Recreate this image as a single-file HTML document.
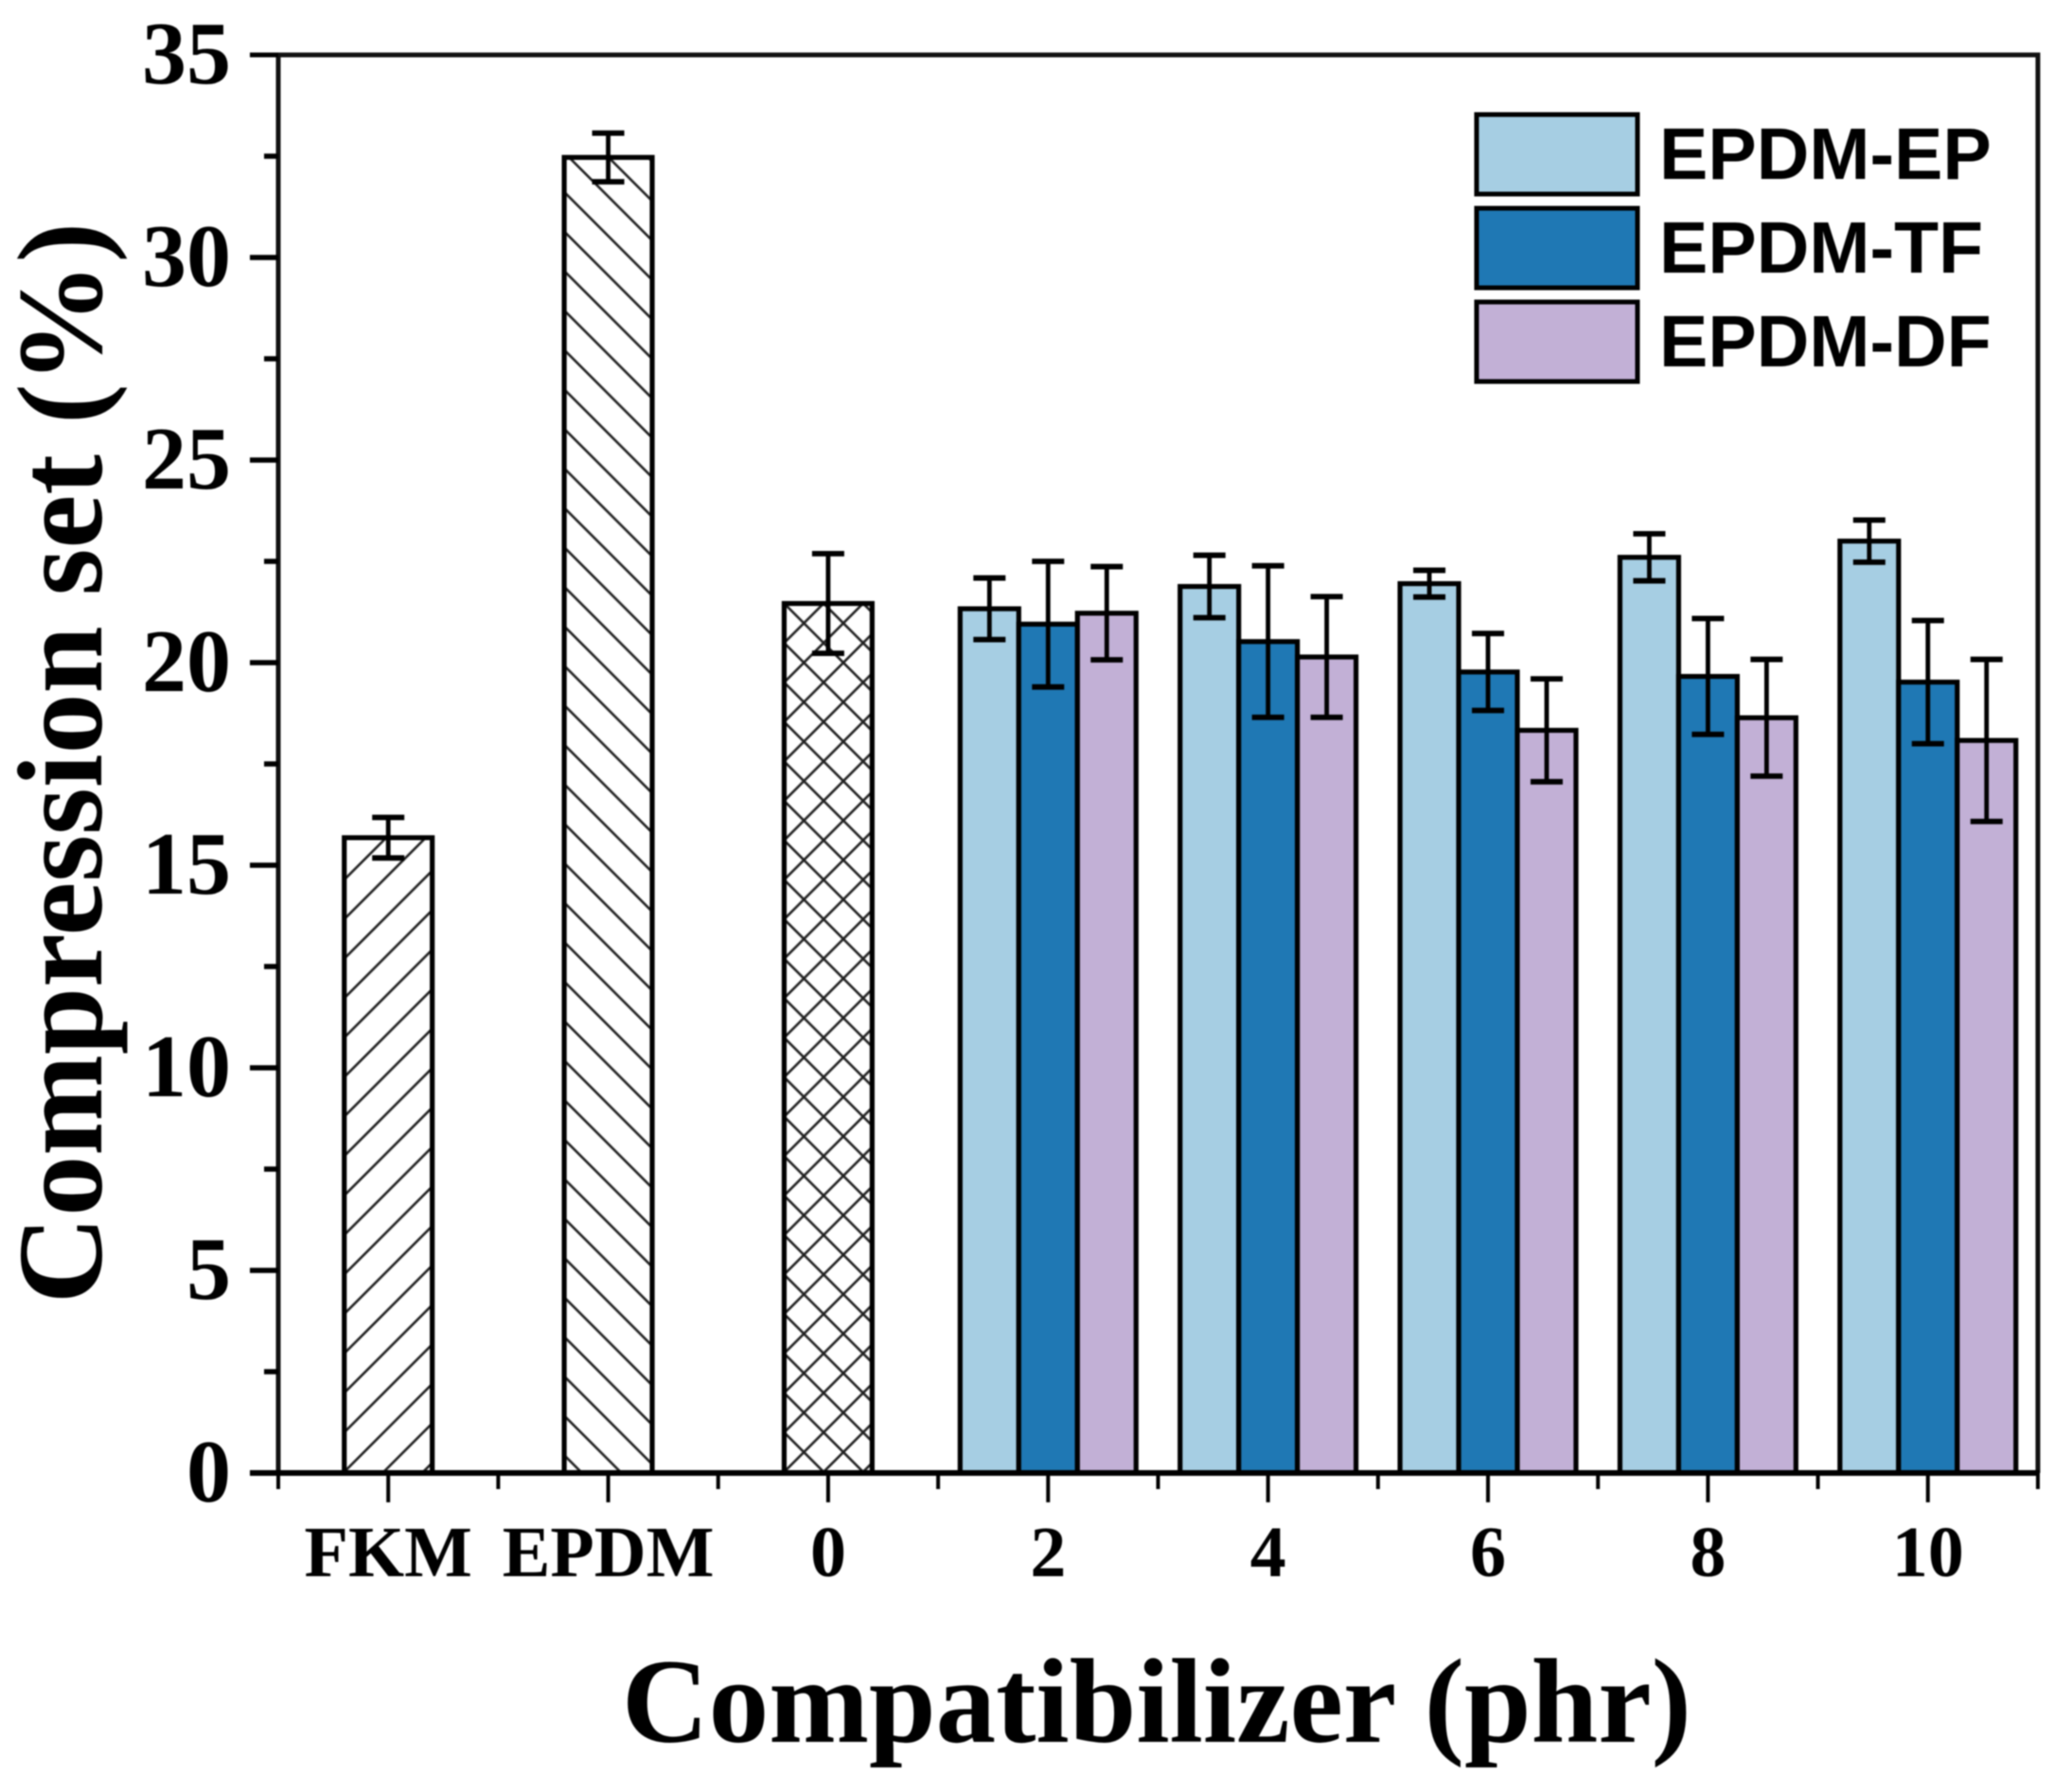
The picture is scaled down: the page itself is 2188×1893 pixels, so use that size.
<!DOCTYPE html>
<html>
<head>
<meta charset="utf-8">
<title>Compression set</title>
<style>
html,body{margin:0;padding:0;background:#fff;}
svg{display:block;filter:blur(0.9px);}
text{fill:#000;}
.serif{font-family:"Liberation Serif",serif;font-weight:bold;}
.sans{font-family:"Liberation Sans",sans-serif;font-weight:bold;}
</style>
</head>
<body>
<svg id="chart" xmlns="http://www.w3.org/2000/svg" width="2188" height="1893" viewBox="0 0 2188 1893">
<defs>
<pattern id="hatch-fwd" patternUnits="userSpaceOnUse" width="41.7" height="41.7" patternTransform="translate(454 1256)"><path d="M-10 51.7L51.7 -10M-10 10L10 -10M31.7 51.7L51.7 31.7" stroke="#222" stroke-width="2.6" fill="none"/></pattern>
<pattern id="hatch-back" patternUnits="userSpaceOnUse" width="41.7" height="41.7" patternTransform="translate(687.5 1253.3)"><path d="M-10 -10L51.7 51.7M-10 31.7L10 51.7M31.7 -10L51.7 10" stroke="#222" stroke-width="2.6" fill="none"/></pattern>
<pattern id="hatch-cross" patternUnits="userSpaceOnUse" width="41.7" height="41.7" patternTransform="translate(849.3 658.3)"><path d="M-10 -10L51.7 51.7M-10 31.7L10 51.7M31.7 -10L51.7 10M-10 51.7L51.7 -10M-10 10L10 -10M31.7 51.7L51.7 31.7" stroke="#222" stroke-width="2.6" fill="none"/></pattern>
</defs>
<g id="bars"></g>
<g id="axes"></g>
<g id="legend"></g>
<text class="serif" font-size="128" text-anchor="middle" transform="translate(107 806) rotate(-90)">Compression set (%)</text>
<text class="serif" font-size="127" text-anchor="middle" x="1222" y="1840">Compatibilizer (phr)</text>
</svg>
<script>
const categories = ['FKM','EPDM','0','2','4','6','8','10'];
const yTicks = [0,5,10,15,20,25,30,35];
const singleNames = ['FKM','EPDM','0'];
const singleValues = [15.68,32.47,21.46];
const singleErrors = [0.5,0.6,1.23];
const singlePatterns = ['hatch-fwd','hatch-back','hatch-cross'];
const groupNames = ['2','4','6','8','10'];
const seriesNames = ['EPDM-EP','EPDM-TF','EPDM-DF'];
const seriesColors = ['#a6cee3','#1f78b4','#c2b0d6'];
const epValues = [21.33,21.88,21.95,22.6,23.0];
const epErrors = [0.76,0.77,0.33,0.58,0.52];
const tfValues = [20.95,20.52,19.77,19.66,19.52];
const tfErrors = [1.55,1.87,0.95,1.43,1.52];
const dfValues = [21.22,20.14,18.33,18.64,18.08];
const dfErrors = [1.15,1.49,1.27,1.44,2.0];
const allValues = [epValues,tfValues,dfValues];
const allErrors = [epErrors,tfErrors,dfErrors];

const NS = 'http://www.w3.org/2000/svg';
const L = 294, R = 2153, T = 58, B = 1556;
function xPos(v){ return L + (v - 0.5) / 8 * (R - L); }
function yPos(v){ return B - v / 35 * (B - T); }
function mk(parent, tag, attrs){
  const el = document.createElementNS(NS, tag);
  for (const k in attrs) el.setAttribute(k, attrs[k]);
  parent.appendChild(el);
  return el;
}
const barsG = document.getElementById('bars');
const axesG = document.getElementById('axes');
const legendG = document.getElementById('legend');

function drawBar(x0, x1, value, err, fill, name){
  const r = mk(barsG, 'rect', {x:x0, y:yPos(value), width:x1-x0, height:B-yPos(value), fill:fill, stroke:'#000', 'stroke-width':5.2});
  
  
}
function drawErr(xc, value, err, name){
  const e = mk(barsG, 'path', {d:'M'+(xc-17)+' '+yPos(value+err)+'H'+(xc+17)+'M'+(xc-17)+' '+yPos(value-err)+'H'+(xc+17), stroke:'#000', 'stroke-width':5.8, fill:'none'});
  
  
  const s = mk(barsG, 'line', {x1:xc, x2:xc, y1:yPos(value+err), y2:yPos(value-err), stroke:'#000', 'stroke-width':4.8});
  
  
}
// single hatched bars
singleValues.forEach((v,i)=>{
  const xc = xPos(i+1);
  drawBar(xc-0.2*(R-L)/8, xc+0.2*(R-L)/8, v, singleErrors[i], 'url(#'+singlePatterns[i]+')', singleNames[i]);
});
// grouped bars
const step = (R-L)/8, bw = step*0.8/3;
groupNames.forEach((g,gi)=>{
  const xc = xPos(gi+4);
  seriesNames.forEach((s,si)=>{
    const x0 = xc - 1.5*bw + si*bw;
    drawBar(x0, x0+bw, allValues[si][gi], allErrors[si][gi], seriesColors[si], s+'-'+g);
  });
});
// error bars on top
singleValues.forEach((v,i)=>{
  drawErr(xPos(i+1), v, singleErrors[i], singleNames[i]);
});
groupNames.forEach((g,gi)=>{
  const xc = xPos(gi+4);
  seriesNames.forEach((s,si)=>{
    drawErr(xc - bw + si*bw, allValues[si][gi], allErrors[si][gi], s+'-'+g);
  });
});
// frame
const frame = mk(axesG, 'path', {d:'M'+L+' '+B+'V'+T+'H'+R+'V'+B, fill:'none', stroke:'#111', 'stroke-width':5});


const xAxis = mk(axesG, 'line', {x1:L-30, x2:R+2, y1:B, y2:B, stroke:'#000', 'stroke-width':6});


const topExt = mk(axesG, 'line', {x1:L-30, x2:L, y1:T, y2:T, stroke:'#000', 'stroke-width':5});


// y ticks
yTicks.forEach((v,i)=>{
  if (v < 35) {
    const t = mk(axesG, 'line', {x1:L-30, x2:L, y1:yPos(v), y2:yPos(v), stroke:'#000', 'stroke-width':5.5});
    
    
    const m = mk(axesG, 'line', {x1:L-15, x2:L, y1:yPos(v+2.5), y2:yPos(v+2.5), stroke:'#000', 'stroke-width':5.5});
    
    
  }
  const lab = mk(axesG, 'text', {x:244, y:yPos(v)+30, 'text-anchor':'end', 'font-size':94, class:'serif'});
  
  
  lab.textContent = v;
});
// x ticks
categories.forEach((c,i)=>{
  const t = mk(axesG, 'line', {x1:xPos(i+1), x2:xPos(i+1), y1:B, y2:B+31, stroke:'#000', 'stroke-width':4});
  
  
  const lab = mk(axesG, 'text', {x:xPos(i+1), y:1665, 'text-anchor':'middle', 'font-size':76, class:'serif'});
  
  
  lab.textContent = c;
});
for (let i = 0; i <= categories.length; i++) {
  const m = mk(axesG, 'line', {x1:xPos(i+0.5), x2:xPos(i+0.5), y1:B, y2:B+17, stroke:'#000', 'stroke-width':4});
  
  
}
// legend
const legendTops = [121,220,319];
seriesNames.forEach((s,i)=>{
  const r = mk(legendG, 'rect', {x:1560, y:legendTops[i], width:170, height:84, fill:seriesColors[i], stroke:'#000', 'stroke-width':5});
  
  
  const t = mk(legendG, 'text', {x:1753, y:legendTops[i]+68, 'font-size':77, class:'sans'});
  
  
  t.textContent = s;
});
</script>
</body>
</html>
